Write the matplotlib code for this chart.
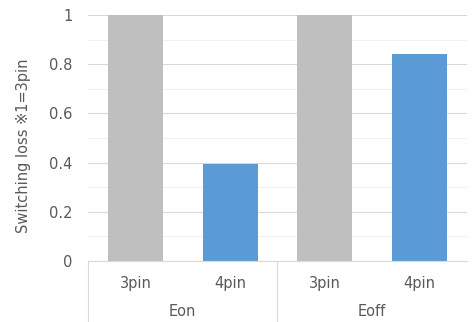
import matplotlib.pyplot as plt
import numpy as np

groups = ["Eon", "Eoff"]
pins = ["3pin", "4pin"]
eon_loss = [1.0, 0.393]
eoff_loss = [1.0, 0.841]
y_ticks = [0, 0.2, 0.4, 0.6, 0.8, 1.0]
y_tick_labels = ["0", "0.2", "0.4", "0.6", "0.8", "1"]

plt.rcParams['font.family'] = ['DejaVu Sans', 'Noto Sans CJK JP']
text_col = "#595959"

fig = plt.figure(figsize=(4.74, 3.22), dpi=100)
ax = fig.add_axes([0.1857, 0.1894, 0.7993, 0.7640])

values = eon_loss + eoff_loss
labels = pins * len(groups)
colors = ["#bfbfbf", "#5b9bd5"] * len(groups)
x = np.arange(len(values))

# gridlines first so bars sit on top
ax.set_yticks(np.arange(0.1, 1.0, 0.2), minor=True)
ax.yaxis.grid(True, which='major', color="#d9d9d9", linewidth=0.8)
ax.yaxis.grid(True, which='minor', color="#f0f0f0", linewidth=0.8)
ax.set_axisbelow(True)

ax.bar(x, values, width=0.58, color=colors, zorder=2)

ax.set_xlim(-0.5, len(values) - 0.5)
ax.set_ylim(0, 1.0)
ax.set_yticks(y_ticks)
ax.set_yticklabels(y_tick_labels)
ax.set_xticks(x)
ax.set_xticklabels(labels)
ax.tick_params(axis='both', which='both', length=0, colors=text_col, labelsize=10.5)
ax.tick_params(axis='x', pad=11)
ax.tick_params(axis='y', pad=11)

for side in ['top', 'right', 'left']:
    ax.spines[side].set_visible(False)
ax.spines['bottom'].set_color("#d9d9d9")
ax.spines['bottom'].set_linewidth(0.8)

# group labels and separators of the two-level category axis
for g, name in enumerate(groups):
    center = g * len(pins) + (len(pins) - 1) / 2
    ax.annotate(name, xy=(center, 0), xycoords=('data', 'axes fraction'),
                xytext=(0, -50), textcoords='offset pixels',
                ha='center', va='center', fontsize=10.5, color=text_col)
for sep in [-0.5, 1.5]:
    ax.plot([sep, sep], [0, -0.26], transform=ax.get_xaxis_transform(),
            color="#d9d9d9", linewidth=0.8, clip_on=False)

ax.set_ylabel("Switching loss ※1=3pin", color=text_col, fontsize=10.5)
ax.yaxis.set_label_coords(-0.15, 0.47)

fig.savefig("out.png", dpi=100)
